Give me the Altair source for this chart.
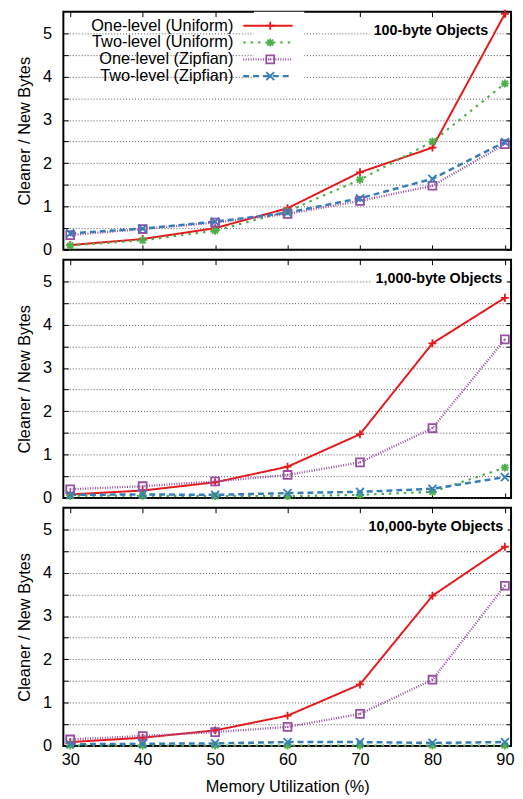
import altair as alt
import pandas as pd

utilization = [30, 40, 50, 60, 70, 80, 90]
series = ["One-level (Uniform)", "Two-level (Uniform)", "One-level (Zipfian)", "Two-level (Zipfian)"]
panel_titles = ["100-byte Objects", "1,000-byte Objects", "10,000-byte Objects"]

# 100-byte objects
b100_one_uniform = [0.11, 0.25, 0.50, 0.96, 1.79, 2.36, 5.45]
b100_two_uniform = [0.10, 0.22, 0.44, 0.89, 1.62, 2.50, 3.84]
b100_one_zipfian = [0.34, 0.48, 0.63, 0.83, 1.13, 1.48, 2.44]
b100_two_zipfian = [0.38, 0.49, 0.65, 0.86, 1.19, 1.64, 2.49]
# 1,000-byte objects
b1000_one_uniform = [0.08, 0.17, 0.36, 0.72, 1.47, 3.57, 4.62]
b1000_two_uniform = [0.05, 0.05, 0.04, 0.04, 0.07, 0.14, 0.70]
b1000_one_zipfian = [0.20, 0.27, 0.38, 0.53, 0.82, 1.61, 3.66]
b1000_two_zipfian = [0.07, 0.08, 0.07, 0.11, 0.14, 0.21, 0.48]
# 10,000-byte objects
b10000_one_uniform = [0.09, 0.19, 0.36, 0.70, 1.42, 3.47, 4.60]
b10000_two_uniform = [0.01, 0.01, 0.01, 0.01, 0.01, 0.01, 0.01]
b10000_one_zipfian = [0.15, 0.23, 0.32, 0.44, 0.74, 1.53, 3.70]
b10000_two_zipfian = [0.04, 0.05, 0.06, 0.09, 0.09, 0.07, 0.09]

panels_values = [
    [b100_one_uniform, b100_two_uniform, b100_one_zipfian, b100_two_zipfian],
    [b1000_one_uniform, b1000_two_uniform, b1000_one_zipfian, b1000_two_zipfian],
    [b10000_one_uniform, b10000_two_uniform, b10000_one_zipfian, b10000_two_zipfian],
]

colors = ["#e41a1c", "#4daf4a", "#984ea3", "#377eb8"]
dashes = [[1, 0], [2.5, 5], [1, 1.5], [6, 4]]
widths = [2, 2.5, 1.5, 2.5]
shapes = [
    "M-1,0H1M0,-1V1",
    "M-1,0H1M0,-1V1M-0.75,-0.75L0.75,0.75M-0.75,0.75L0.75,-0.75",
    "M-1,-1H1V1H-1ZM-0.2,0H0.2",
    "M-1,-1L1,1M-1,1L1,-1",
]
marker_names = [s + " marker" for s in series]

FONT = "Liberation Sans"
W, H = 453, 241
title_right = [430, 444, 445]
y_ticks = [i * 0.5 for i in range(11)]

LEG_PAD = 6
LEG_Y = 0


def make_panel(idx):
    rows = []
    for s, m, vals in zip(series, marker_names, panels_values[idx]):
        for u, v in zip(utilization, vals):
            rows.append({"util": u, "value": v, "series": s, "marker": m})
    df = pd.DataFrame(rows)
    is_bottom = idx == 2
    base = alt.Chart(df)

    xscale = alt.Scale(domain=[29.05, 90.85], nice=False, zero=False)
    yscale = alt.Scale(domain=[0, 5.5], nice=False)

    legend_a = None
    legend_b = None
    if idx == 0:
        legend_a = alt.Legend(
            orient="none", legendX=192.75, legendY=LEG_Y, title=None,
            labelFont=FONT, labelFontSize=16.5, labelAlign="right",
            labelOffset={"expr": "-43.25"}, symbolType="M-4,0H4", symbolSize=156,
            fillColor="white", padding=LEG_PAD, rowPadding=0, labelColor="black",
            zindex=0,
        )
        legend_b = alt.Legend(
            orient="none", legendX=195.1, legendY=LEG_Y, title=None,
            labelFont=FONT, labelFontSize=16.5, labelOpacity=0,
            symbolSize=64, symbolStrokeWidth=1.8, symbolFillColor="transparent",
            padding=LEG_PAD, rowPadding=0, zindex=1,
        )

    lines = base.mark_line().encode(
        x=alt.X("util:Q", scale=xscale,
                axis=alt.Axis(values=utilization, orient="bottom", offset=-5, tickSize=5,
                              domain=False, grid=False, labels=is_bottom, labelPadding=6,
                              title="Memory Utilization (%)" if is_bottom else None,
                              titlePadding=11,
                              **({} if is_bottom else {"minExtent": 0, "maxExtent": 0}))),
        y=alt.Y("value:Q", scale=yscale,
                axis=alt.Axis(values=y_ticks, orient="left", offset=-5, tickSize=5,
                              domain=False, grid=True, labelPadding=12,
                              labelExpr="datum.value % 1 == 0 ? '' + datum.value : ''",
                              title="Cleaner / New Bytes", titlePadding=10)),
        color=alt.Color("series:N", scale=alt.Scale(domain=series, range=colors), legend=legend_a),
        strokeDash=alt.StrokeDash("series:N", scale=alt.Scale(domain=series, range=dashes), legend=legend_a),
        strokeWidth=alt.StrokeWidth("series:N", scale=alt.Scale(domain=series, range=widths), legend=legend_a),
    )
    points = base.mark_point(filled=False, size=64, strokeWidth=1.8, opacity=1).encode(
        x=alt.X("util:Q", scale=xscale,
                axis=alt.Axis(values=utilization, orient="top", offset=-5, tickSize=5,
                              domain=False, grid=False, labels=False, title=None,
                              minExtent=0, maxExtent=0)),
        y=alt.Y("value:Q", scale=yscale,
                axis=alt.Axis(values=y_ticks, orient="right", offset=-5, tickSize=5,
                              domain=False, grid=False, labels=False, title=None,
                              minExtent=0, maxExtent=0)),
        stroke=alt.Stroke("marker:N", scale=alt.Scale(domain=marker_names, range=colors), legend=legend_b),
        shape=alt.Shape("marker:N", scale=alt.Scale(domain=marker_names, range=shapes), legend=legend_b),
    )
    tdf = pd.DataFrame({"title": [panel_titles[idx]]})
    halo = alt.Chart(tdf).mark_text(
        align="right", baseline="middle", font=FONT, fontSize=14.5, fontWeight="bold",
        stroke="white", strokeWidth=10, strokeJoin="round", fill="white",
    ).encode(text="title:N", x=alt.value(title_right[idx]), y=alt.value(20))
    label = alt.Chart(tdf).mark_text(
        align="right", baseline="middle", font=FONT, fontSize=14.5, fontWeight="bold", color="black",
    ).encode(text="title:N", x=alt.value(title_right[idx]), y=alt.value(20))

    return alt.layer(lines, points, halo, label).resolve_axis(
        x="independent", y="independent"
    ).properties(width=W, height=H)


chart = alt.vconcat(*[make_panel(i) for i in range(3)], spacing=10, bounds="flush").properties(
    padding={"left": 7, "top": -8, "right": 0, "bottom": 0}
).configure_view(stroke="black", strokeWidth=2).configure_axis(
    labelFont=FONT, titleFont=FONT, labelFontSize=16.5, titleFontSize=16.5,
    titleFontWeight="normal", labelColor="black", titleColor="black",
    tickColor="black", tickWidth=1, gridColor="#555555", gridDash=[1, 2], gridWidth=1,
).configure_legend(labelFont=FONT)

chart.save("out.html", embed_options={"renderer": "svg", "actions": False})
